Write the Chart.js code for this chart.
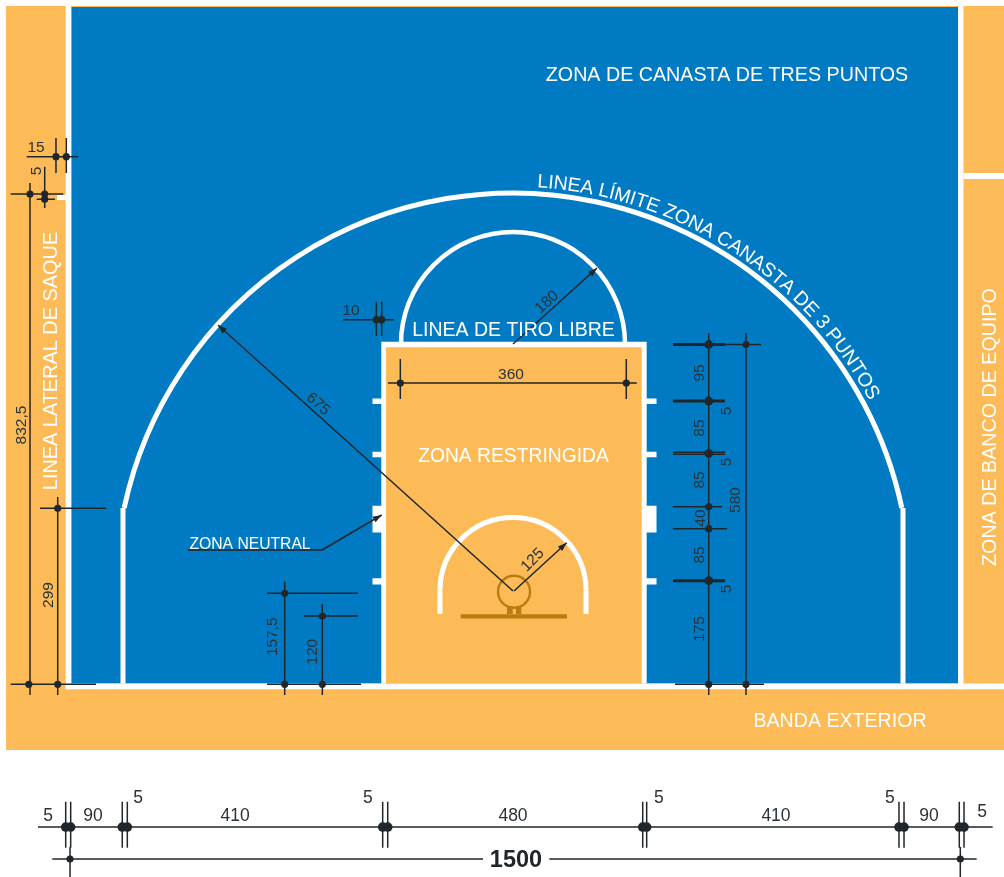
<!DOCTYPE html>
<html><head><meta charset="utf-8">
<style>html,body{margin:0;padding:0;background:#fff}canvas{display:block}</style>
<script src="https://cdn.jsdelivr.net/npm/chart.js@4"></script>
</head><body><canvas id="c" width="1004" height="877"></canvas>
<script>
// All values below are in drawing units (approx. cm on the court plan).
const ORANGE='#FDBB57', BLUE='#007BC3', WHITE='#FFFFFF', GOLD='#B97D0F', INK='#20262A';

const floorRect=[-100,1131.7,1563.3,-108.3];
const blueRect=[8.8,1130,1486.7,2.5];
const whiteRects=[
 [-0.5,1131.7,8.8,-7.2],[1486.7,1131.7,1495.8,-7.2],[-0.5,2.5,1563.3,-7.2],
 [1495.8,853.3,1563.3,843.3],[-15,816.7,0,808.3],
 [525.5,572.2,967.8,2.5],
 [510.8,477.5,526.7,468.3],[510.8,388.8,526.7,379.5],[510.8,298.8,526.7,254.3],[510.8,177.8,526.7,167.7],
 [966.7,477.5,984.2,468.3],[966.7,388.8,984.2,379.5],[966.7,298.8,984.2,254.3],[966.7,177.8,984.2,167.7]
];
const keyRect=[533.3,562.8,959.5,2.5];
const goldRects=[[657.8,117.8,835,110.7],[735,131.7,744.5,118.3],[750,131.7,758.8,118.3]];

const arcThree=[745,157.5,662.5,12,168];
const arcFreeThrow=[745,568.3,186.7,0,180];
const arcRestricted=[745,157.5,121.7,0,180];
const arcHoop=[746.7,155.5,26.7,0,360];
const threeStraights=[[95,2.5,95,295],[1395,2.5,1395,295]];
const restrictedStraights=[[623.3,157.5,623.3,118.3],[866.7,157.5,866.7,118.3]];

const bottomTicksX=[-0.5,7.8,93.8,102.2,527.8,536.2,961.2,967.8,1388.3,1396.7,1488.8,1496.7];
const bottomRowY=-236.7, totalRowY=-290;
const thinLines=[
 [-65.5,880.5,20,880.5],[-16.7,911.7,-16.7,853.3],[0.5,911.7,0.5,853.3],
 [-92.2,818.3,-4.5,818.3],[-48.8,809.5,-18.3,809.5],[-35.5,863.8,-35.5,795],
 [-60,836.7,-60,-16.7],[-13.8,313.3,-13.8,-16.7],[-43.3,294.5,66.7,294.5],[-92.2,1.2,50,1.2],
 [536.7,503.3,951.2,503.3],[557.2,543.3,557.2,476.7],[933.8,543.3,933.8,476.7],
 [461.7,608.8,546.7,608.8],[517.2,638.8,517.2,581.7],[526.2,638.8,526.2,581.7],
 [1071.2,586.7,1071.2,-16.7],[1133.3,586.7,1133.3,-16.7],[1098.3,567.5,1158.3,567.5],
 [1011.7,388,1098.3,388],[1011.7,384.4,1098.3,384.4],[1011.7,297.2,1093.3,297.2],[1011.7,260.5,1101.7,260.5],
 [1015,1.2,1163.3,1.2],
 [364.5,172.2,364.5,-16.7],[427.2,135,427.2,-16.7],[335,152.8,486.7,152.8],[396.7,115,486.7,115],[335,1.2,491.7,1.2],
 [-46.7,bottomRowY,1544.5,bottomRowY],[-22.8,totalRowY,695,totalRowY],[805.5,totalRowY,1517.8,totalRowY],
 [6.7,-270,6.7,-320],[1490.5,-270,1490.5,-320]
];
const thickLines=[[1011.7,567.5,1098.3,567.5],[1011.7,473.3,1098.3,473.3],[1011.7,173.8,1098.3,173.8]];
const arrows=[[745,156.7,253.3,600],[745,568.3,885,695],[746.7,156.7,834.5,237.2],[426.7,225,526.2,283.3]];
const leader=[203.3,225,426.7,225];
const smallDots=[[-60,818.3],[-35.5,818.3],[-35.5,809.5],[-16.7,880.5],[0.5,880.5],[-13.8,294.5],[-13.8,1.2],[-62,1.2],
 [557.2,503.3],[933.8,503.3],[517.2,608.8],[526.2,608.8],
 [1133.3,567.5],[1133.3,1.2],[1071.2,297.2],[1071.2,260.5],[1071.2,1.2],
 [364.5,152.8],[427.2,115],[364.5,1.2],[427.2,1.2],[6.7,totalRowY],[1490.5,totalRowY]];
const largeDots=[[1071.2,567.5],[1071.2,473.3],[1071.2,386.2],[1071.2,173.8]];

const whiteLabels=[
 ['ZONA DE CANASTA DE TRES PUNTOS',1101.7,1018.3,0,19.7],
 ['BANDA EXTERIOR',1290,-58.3,0,19.6],
 ['ZONA DE BANCO DE EQUIPO',1538.3,430,-90,19.7],
 ['LINEA LATERAL DE SAQUE',-26.7,540,-90,19.9],
 ['LINEA DE TIRO LIBRE',745.8,593.3,0,19.5],
 ['ZONA RESTRINGIDA',745.8,383.3,0,19.3],
 ['ZONA NEUTRAL',306.7,236.7,0,15.7]
];
const innerNumbers=[
 ['15',-50,898.3,0],['5',-51.7,856.7,-90],['832,5',-76.7,433.3,-90],['299',-31.7,150,-90],
 ['360',741.7,520,0],['10',475,626.7,0],['180',800,640,-42],['675',421.7,470,42],['125',776.2,210,-45],
 ['157,5',342.8,80.5,-90],['120',409.5,55.5,-90],
 ['95',1053.3,520,-90],['85',1053.3,428.3,-90],['85',1053.3,341.7,-90],['40',1055,278.3,-90],['85',1053.3,216.7,-90],['175',1053.3,93.3,-90],
 ['5',1099.5,456.7,-90],['5',1099.5,371.7,-90],['5',1099.5,160,-90],['580',1113.3,308.3,-90]
];
const bottomNumbers=[
 ['5',-30,-216.7,0],['90',45,-216.7,0],['5',120,-186.7,0],['410',281.7,-216.7,0],['5',503.3,-186.7,0],
 ['480',745,-216.7,0],['5',988.3,-186.7,0],['410',1183.3,-216.7,0],['5',1373.3,-186.7,0],['90',1438.3,-216.7,0],['5',1526.7,-210,0]
];
const totalLabel=['1500',750,totalRowY];
const curvedLabel='LINEA LÍMITE ZONA CANASTA DE 3 PUNTOS';
const curvedArc=[745,157.5,673,3.4,62];

const pts=s=>s.flatMap(a=>[{x:a[0],y:a[1]},{x:a[2],y:a[3]},{x:null,y:null}]);
const rectDs=(r,color)=>({type:'scatter',showLine:true,data:[{x:r[0],y:r[1]},{x:r[2],y:r[1]},{x:r[2],y:r[3]},{x:r[0],y:r[3]},{x:r[0],y:r[1]}],
  fill:'shape',backgroundColor:color,borderWidth:0,borderColor:color,pointRadius:0,tension:0});
const lineDs=(segs,color,w)=>({type:'scatter',showLine:true,data:pts(segs),borderColor:color,backgroundColor:color,borderWidth:w,pointRadius:0,fill:false,tension:0,spanGaps:false});
const dotDs=(d,r)=>({type:'scatter',showLine:false,data:d.map(p=>({x:p[0],y:p[1]})),backgroundColor:INK,borderWidth:0,pointRadius:r,pointHoverRadius:r});

const surfaces=[rectDs(floorRect,ORANGE),rectDs(blueRect,BLUE),...whiteRects.map(r=>rectDs(r,WHITE)),rectDs(keyRect,ORANGE)];
const bottomDots=bottomTicksX.map(x=>[x,bottomRowY]);
const bottomTicks=bottomTicksX.map(x=>[x,-194.5,x,-271.2]);
const overlay=[
 lineDs([...threeStraights,...restrictedStraights],WHITE,5),
 ...goldRects.map(r=>rectDs(r,GOLD)),
 lineDs([...thinLines,...bottomTicks,leader,...arrows],INK,1.5),
 lineDs(thickLines,INK,3),
 dotDs(smallDots,3.6),dotDs(largeDots,4.4),dotDs(bottomDots,4.8)
];
const datasets=[...surfaces,...overlay];
datasets.forEach((d,i)=>{d.order=datasets.length-i;d.clip=false;});
const lastSurface=surfaces.length-1;

const courtPlugin={
 id:'court',
 afterDatasetDraw(chart,args){
  if(args.index!==lastSurface) return;
  const c=chart.ctx,X=chart.scales.x,Y=chart.scales.y;
  const k=X.getPixelForValue(1)-X.getPixelForValue(0);
  const arc=(a,color,w)=>{c.save();c.strokeStyle=color;c.lineWidth=w;c.beginPath();
   c.arc(X.getPixelForValue(a[0]),Y.getPixelForValue(a[1]),a[2]*k,-Math.PI*(a[4])/180,-Math.PI*(a[3])/180);c.stroke();c.restore();};
  arc(arcThree,WHITE,5);arc(arcFreeThrow,WHITE,4.5);arc(arcRestricted,WHITE,5);arc(arcHoop,GOLD,2.4);
 },
 afterDatasetsDraw(chart){
  const c=chart.ctx,X=chart.scales.x,Y=chart.scales.y;
  const k=X.getPixelForValue(1)-X.getPixelForValue(0);
  const put=(t,u,v,rot,font,color)=>{c.save();c.translate(X.getPixelForValue(u),Y.getPixelForValue(v));c.rotate(rot*Math.PI/180);
   c.font=font;c.fillStyle=color;c.textAlign='center';c.textBaseline='middle';c.fillText(t,0,1.5);c.restore();};
  whiteLabels.forEach(l=>put(l[0],l[1],l[2],l[3],l[4]+'px "Liberation Sans"',WHITE));
  innerNumbers.forEach(l=>put(l[0],l[1],l[2],l[3],'15.5px "Liberation Sans"','#2B3338'));
  bottomNumbers.forEach(l=>put(l[0],l[1],l[2],l[3],'17.5px "Liberation Sans"','#2B3338'));
  put(totalLabel[0],totalLabel[1],totalLabel[2],0,'bold 23.5px "Liberation Sans"','#20262A');
  arrows.forEach(a=>{const x1=X.getPixelForValue(a[0]),y1=Y.getPixelForValue(a[1]),x2=X.getPixelForValue(a[2]),y2=Y.getPixelForValue(a[3]);
   c.save();c.translate(x2,y2);c.rotate(Math.atan2(y2-y1,x2-x1));c.fillStyle=INK;c.beginPath();c.moveTo(0,0);c.lineTo(-9,-3.2);c.lineTo(-9,3.2);c.closePath();c.fill();c.restore();});
  const cx=X.getPixelForValue(curvedArc[0]),cy=Y.getPixelForValue(curvedArc[1]),r=curvedArc[2]*k;
  c.save();c.font='19.5px "Liberation Sans"';c.fillStyle=WHITE;c.textAlign='center';c.textBaseline='alphabetic';
  const w=[...curvedLabel].map(ch=>c.measureText(ch).width);
  const total=w.reduce((a,b)=>a+b,0);
  const arcLen=(curvedArc[4]-curvedArc[3])*Math.PI/180*r;
  const gap=(arcLen-total)/(w.length-1);
  let s=0;
  [...curvedLabel].forEach((ch,i)=>{const th=curvedArc[3]*Math.PI/180+(s+w[i]/2)/r;
   c.save();c.translate(cx+r*Math.sin(th),cy-r*Math.cos(th));c.rotate(th);c.fillText(ch,0,0);c.restore();s+=w[i]+gap;});
  c.restore();
 }
};

new Chart(document.getElementById('c'),{
 type:'scatter',
 data:{datasets},
 plugins:[courtPlugin],
 options:{
  responsive:false,animation:false,devicePixelRatio:1,
  layout:{padding:0,autoPadding:false},
  plugins:{legend:{display:false},tooltip:{enabled:false}},
  events:[],
  scales:{
   x:{type:'linear',display:false,min:-110,max:1563.33},
   y:{type:'linear',display:false,min:-320,max:1141.67}
  }
 }
});
</script></body></html>
